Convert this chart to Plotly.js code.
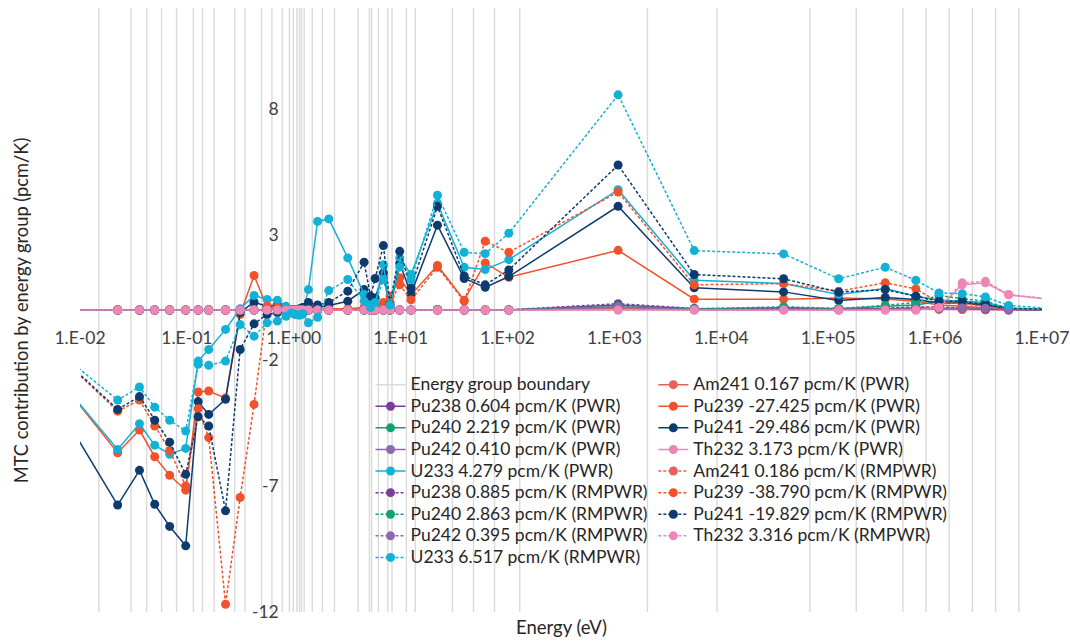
<!DOCTYPE html>
<html><head><meta charset="utf-8">
<script src="https://cdn.plot.ly/plotly-3.0.1.min.js"></script>
<style>html,body{margin:0;padding:0;background:#fff;} #chart{width:1070px;height:642px;}</style>
</head><body><div id="chart"></div>
<script>
// Energy group boundaries (eV)
const groupBounds = [1e-5, 0.015, 0.03, 0.042, 0.058, 0.08, 0.115, 0.14, 0.18, 0.28, 0.35, 0.5, 0.625, 0.78, 0.91, 0.99, 1.07, 1.13, 1.18, 1.25, 1.49, 1.85, 2.4, 4.0, 5.1, 5.35, 6.19, 7.6, 8.3, 11.3, 13.7, 30.5, 48.05, 75.5, 130, 2035, 9118, 67340, 183000, 500000, 821000, 1353000, 2231000, 3679000, 6065500, 20000000];
// Plotted energy of each group (eV)
const energy = [0.0075, 0.0225, 0.036, 0.05, 0.069, 0.0975, 0.1275, 0.16, 0.23, 0.315, 0.425, 0.5625, 0.7025, 0.845, 0.95, 1.03, 1.10, 1.155, 1.215, 1.37, 1.67, 2.125, 3.2, 4.55, 5.225, 5.77, 6.895, 7.95, 9.8, 12.5, 22.1, 39.3, 61.8, 102.8, 1082, 5577, 38230, 125200, 341500, 660500, 1087000, 1792000, 2955000, 4872000, 13030000];

const xTickVals = [0.01, 0.1, 1, 10, 100, 1000, 1e4, 1e5, 1e6, 1e7];
const xTickText = ['1.E-02','1.E-01','1.E+00','1.E+01','1.E+02','1.E+03','1.E+04','1.E+05','1.E+06','1.E+07'];
const yTickVals = [-12, -7, -2, 3, 8];
const yTickText = ['-12', '-7', '-2', '3', '8'];
const yRange = [-12, 12];

// MTC contribution by group (pcm/K)
const am241PWR = [0,0,0,0,0,0,0,0,0,0, 0,0,0,0,0,0,0,0,0,0, 0,0,0,0,0,0,0,0,0,0, 0,0,0,0,0.05,0.01,0.02,0.01,0.02,0.03, 0.03,0.02,0.01,0,0];
const pu238PWR = [0,0,0,0,0,0,0,0,0,0, 0,0,0,0,0,0,0,0,0,0, 0,0,0,0,0,0,0,0,0,0, 0.01,0,0,0,0.20,0.05,0.04,0.03,0.05,0.08, 0.08,0.05,0.03,0.01,0];
const pu239PWR = [-3.13,-5.67,-4.77,-5.83,-6.57,-7.16,-3.26,-3.22,-3.50,-0.18, 1.37,0.10,0.05,-0.05,0.00,-0.02,-0.02,0.00,0.00,0.02, 0.02,0.05,0.05,0.10,0.05,0.10,0.30,0.55,1.28,0.60, 1.77,0.39,1.87,1.30,2.37,0.43,0.43,0.48,0.44,0.35, 0.20,0.15,0.10,0.03,0.01];
const pu240PWR = [0,0,0,0,0,0,0,0,0,0, 0,0,0,0,0,0,0,0,0,0, 0,0,0,0,0,0,0,0,0,0, 0.02,0,0,0,0.12,0.03,0.10,0.05,0.15,0.20, 0.35,0.30,0.25,0.05,0.01];
const pu241PWR = [-4.38,-7.75,-6.37,-7.72,-8.60,-9.37,-3.64,-4.15,-3.55,-0.10, 0.31,0.15,0.20,0.05,0.00,0.00,0.02,0.05,0.08,0.15, 0.10,0.18,0.35,0.81,0.10,0.48,1.47,0.10,1.85,0.65, 3.37,1.25,0.90,1.33,4.12,0.88,0.72,0.38,0.50,0.42, 0.28,0.28,0.18,0.05,0.02];
const pu242PWR = [0,0,0,0,0,0,0,0,0,0, 0,0,0,0,0,0,0,0,0,0, 0,0,0,0,0,0,0,0,0,0, 0,0,0,0,0.10,0.02,0.02,0.01,0.03,0.05, 0.06,0.08,0.08,0.02,0];
const th232PWR = [0,0,0,0,0,0,0,0,0,0, 0,0,0,0,0,0,0,0,0,0, 0,0,0,0,0,0,0,0,0,0, 0,0,0,0,0,0,0,0,0,0, 0.08,1.00,1.08,0.60,0.40];
const u233PWR = [-3.12,-5.54,-4.52,-5.37,-5.73,-5.50,-2.03,-1.57,-0.77,0.05, 0.58,0.42,0.39,0.15,-0.10,-0.15,-0.18,-0.15,-0.10,0.81, 3.52,3.62,2.07,0.62,0.22,0.22,1.80,0.10,2.07,1.41, 4.23,1.70,1.61,2.00,4.78,1.18,1.05,0.62,0.85,0.55, 0.40,0.35,0.30,0.08,0.03];

const am241RMPWR = [0,0,0,0,0,0,0,0,0,0, 0,0,0,0,0,0,0,0,0,0, 0,0,0,0,0,0,0,0,0,0, 0,0,0,0,0.06,0.01,0.02,0.01,0.03,0.03, 0.03,0.02,0.01,0,0];
const pu238RMPWR = [0,0,0,0,0,0,0,0,0,0, 0,0,0,0,0,0,0,0,0,0, 0,0,0,0,0,0,0,0,0,0, 0.01,0,0,0.01,0.25,0.06,0.05,0.04,0.07,0.12, 0.12,0.07,0.04,0.01,0];
const pu239RMPWR = [-2.10,-4.02,-3.58,-4.61,-5.58,-6.99,-3.92,-5.07,-11.69,-7.45, -3.75,0.15,0.10,-0.05,0.00,0.00,0.00,0.00,0.00,0.02, 0.02,0.03,0.03,0.05,0.05,0.05,0.20,0.30,1.00,0.40, 1.70,0.35,2.73,2.29,4.69,1.00,1.05,0.75,1.08,0.84, 0.30,0.25,0.15,0.04,0.01];
const pu240RMPWR = [0,0,0,0,0,0,0,0,0,0, 0,0,0,0,0,0,0,0,0,0, 0,0,0,0,0,0,0,0,0,0, 0.02,0,0,0,0.15,0.04,0.13,0.06,0.18,0.30, 0.58,0.45,0.35,0.07,0.01];
const pu241RMPWR = [-2.07,-3.95,-3.44,-4.38,-5.25,-6.53,-4.24,-4.61,-7.98,-1.57, -0.55,-0.18,-0.10,-0.05,0.00,0.02,0.03,0.05,0.10,0.30, 0.20,0.30,0.75,1.90,0.55,1.25,2.56,0.22,2.33,0.88, 4.12,1.35,1.00,1.59,5.76,1.41,1.24,0.71,0.81,0.55, 0.35,0.35,0.22,0.05,0.02];
const pu242RMPWR = [0,0,0,0,0,0,0,0,0,0, 0,0,0,0,0,0,0,0,0,0, 0,0,0,0,0,0,0,0,0,0, 0,0,0,0,0.12,0.02,0.02,0.01,0.03,0.05, 0.06,0.08,0.07,0.02,0];
const th232RMPWR = [0,0,0,0,0,0,0,0,0,0, 0,0,0,0,0,0,0,0,0,0, 0,0,0,0,0,0,0,0,0,0, 0,0,0,0,0,0,0,0,0,0, 0.10,1.08,1.14,0.62,0.42];
const u233RMPWR = [-1.93,-3.58,-3.06,-3.86,-4.38,-4.81,-2.16,-2.20,-2.03,-0.58, -1.04,-0.51,-0.44,-0.25,-0.12,-0.18,-0.20,-0.20,-0.15,-0.51, -0.29,0.77,1.21,0.35,0.10,0.30,1.21,0.20,1.71,1.20, 4.56,2.29,2.24,3.05,8.55,2.36,2.23,1.24,1.70,1.18, 0.68,0.65,0.52,0.18,0.05];

const series = [
  {name: 'Am241 0.167 pcm/K (PWR)', y: am241PWR, color: '#E5625C', dash: 'solid', legend: 'legend2'},
  {name: 'Pu238 0.604 pcm/K (PWR)', y: pu238PWR, color: '#7A3D99', dash: 'solid', legend: 'legend'},
  {name: 'Pu239 -27.425 pcm/K (PWR)', y: pu239PWR, color: '#F1522B', dash: 'solid', legend: 'legend2'},
  {name: 'Pu240 2.219 pcm/K (PWR)', y: pu240PWR, color: '#12A171', dash: 'solid', legend: 'legend'},
  {name: 'Pu241 -29.486 pcm/K (PWR)', y: pu241PWR, color: '#0D3B70', dash: 'solid', legend: 'legend2'},
  {name: 'Pu242 0.410 pcm/K (PWR)', y: pu242PWR, color: '#8C6AB0', dash: 'solid', legend: 'legend'},
  {name: 'Th232 3.173 pcm/K (PWR)', y: th232PWR, color: '#EF87B6', dash: 'solid', legend: 'legend2'},
  {name: 'U233 4.279 pcm/K (PWR)', y: u233PWR, color: '#13B1D6', dash: 'solid', legend: 'legend'},
  {name: 'Am241 0.186 pcm/K (RMPWR)', y: am241RMPWR, color: '#E5625C', dash: '3px,2px', legend: 'legend2'},
  {name: 'Pu238 0.885 pcm/K (RMPWR)', y: pu238RMPWR, color: '#7A3D99', dash: '3px,2px', legend: 'legend'},
  {name: 'Pu239 -38.790 pcm/K (RMPWR)', y: pu239RMPWR, color: '#F1522B', dash: '3px,2px', legend: 'legend2'},
  {name: 'Pu240 2.863 pcm/K (RMPWR)', y: pu240RMPWR, color: '#12A171', dash: '3px,2px', legend: 'legend'},
  {name: 'Pu241 -19.829 pcm/K (RMPWR)', y: pu241RMPWR, color: '#0D3B70', dash: '3px,2px', legend: 'legend2'},
  {name: 'Pu242 0.395 pcm/K (RMPWR)', y: pu242RMPWR, color: '#8C6AB0', dash: '3px,2px', legend: 'legend'},
  {name: 'Th232 3.316 pcm/K (RMPWR)', y: th232RMPWR, color: '#EF87B6', dash: '3px,2px', legend: 'legend2'},
  {name: 'U233 6.517 pcm/K (RMPWR)', y: u233RMPWR, color: '#13B1D6', dash: '3px,2px', legend: 'legend'}
];

const LEG_TEXT = t => '<span style="font-size:17.5px">' + t + '</span>';

// vertical group-boundary lines
const bx = [], by = [];
groupBounds.forEach(b => { bx.push(b, b, null); by.push(yRange[0], yRange[1], null); });

const traces = [{
  x: bx, y: by, type: 'scatter', mode: 'lines', name: LEG_TEXT('Energy group boundary'),
  line: {color: '#DADADA', width: 1.4}, legend: 'legend', hoverinfo: 'skip'
}];
series.forEach(s => traces.push({
  x: energy, y: s.y, type: 'scatter', mode: 'lines+markers', name: LEG_TEXT(s.name), legend: s.legend,
  line: {color: s.color, width: 1.5, dash: s.dash},
  marker: {color: s.color, size: 9, line: {width: 0}}
}));

const FONT = 'Lato, "Liberation Sans", Arial, sans-serif';
const legendCommon = {
  bgcolor: 'rgba(0,0,0,0)', borderwidth: 0, traceorder: 'normal',
  font: {family: FONT, size: 14.3, color: '#262626'},
  xanchor: 'left', yanchor: 'top', itemwidth: 30
};

const layout = {
  width: 1070, height: 642,
  margin: {l: 80, r: 28, t: 8, b: 30},
  paper_bgcolor: '#fff', plot_bgcolor: '#fff',
  font: {family: FONT, color: '#404040'},
  showlegend: true,
  xaxis: {
    type: 'log', range: [-2, 7], showgrid: false, zeroline: false, showline: false,
    ticks: '', tickvals: xTickVals, ticktext: xTickText,
    tickfont: {family: FONT, size: 17.5, color: '#404040'},
    anchor: 'free', position: 0.5, ticklabelstandoff: 15
  },
  yaxis: {
    range: yRange, showgrid: false, zeroline: false, showline: false,
    ticks: '', tickvals: yTickVals, ticktext: yTickText,
    tickfont: {family: FONT, size: 17.5, color: '#404040'},
    anchor: 'free', position: 0.2222, ticklabelstandoff: 15
  },
  legend: Object.assign({}, legendCommon, {x: 0.302, y: 0.4025}),
  legend2: Object.assign({}, legendCommon, {x: 0.596, y: 0.4025}),
  annotations: [
    {text: 'Energy (eV)', xref: 'paper', yref: 'paper', x: 0.5, y: -0.025, showarrow: false,
     font: {family: FONT, size: 18.5, color: '#262626'}, xanchor: 'center', yanchor: 'middle'},
    {text: 'MTC contribution by energy group (pcm/K)', xref: 'paper', yref: 'paper', x: -0.061, y: 0.5,
     showarrow: false, textangle: -90, font: {family: FONT, size: 18.3, color: '#262626'},
     xanchor: 'center', yanchor: 'middle'}
  ]
};

Plotly.newPlot('chart', traces, layout, {displayModeBar: false, staticPlot: true});
</script></body></html>
